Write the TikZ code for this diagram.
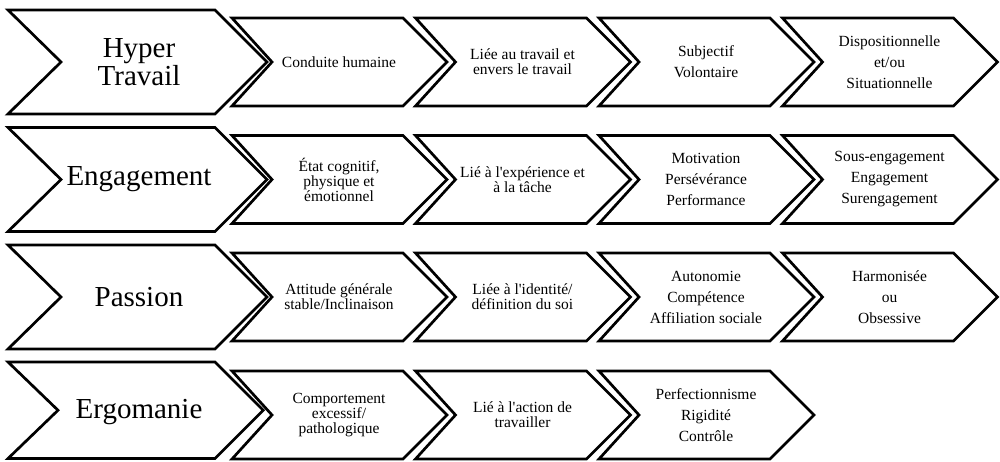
\documentclass[tikz,border=0pt]{standalone}
\usepackage{fontspec}
\newfontfamily\chevfont{Liberation Serif}
\newcommand\chev[6]{% left x, top y, top width, height, tip depth, notch depth
  \draw[chevline] ({#1},{#2}) -- ({#1+#3},{#2}) -- ({#1+#3+#5},{#2+#4/2})
    -- ({#1+#3},{#2+#4}) -- ({#1},{#2+#4}) -- ({#1+#6},{#2+#4/2}) -- cycle;}
\begin{document}
\begin{tikzpicture}[x=1pt,y=-1pt,
  chevline/.style={line width=2.7pt, line join=miter, draw=black},
  stxt/.style={font=\chevfont\fontsize{15.5}{15}\selectfont, align=center, inner sep=0pt},
  ltxt/.style={font=\chevfont\fontsize{15.5}{21}\selectfont, align=center, inner sep=0pt},
  btxt/.style={font=\chevfont\fontsize{29}{25.5}\selectfont, align=center, inner sep=0pt}]
\useasboundingbox (0,0) rectangle (1000,461);
% big chevrons
\chev{8}{10}{207}{104}{52}{53}
\chev{8}{127.5}{207}{104}{52}{53}
\chev{8}{245}{207}{104}{52}{53}
\chev{8}{362}{207}{96.5}{48.25}{50}
% small chevrons
\foreach \o in {0,117.5,235,353}{
  \foreach \l in {232,415.5,599}{
    \chev{\l}{18+\o}{171}{88}{44}{40}
  }
}
\foreach \o in {0,117.5,235}{
  \chev{782.5}{18+\o}{171}{88}{44}{40}
}
% row 1
\node[btxt] (h0) at (139,62) {Hyper\\Travail};
\node[stxt] (h1) at (339,62) {Conduite humaine};
\node[stxt] (h2) at (522.5,62) {Liée au travail et\\envers le travail};
\node[ltxt] (h3) at (706,62) {Subjectif\\Volontaire};
\node[ltxt] (h4) at (889.5,62) {Dispositionnelle\\et/ou\\Situationnelle};
% row 2
\node[btxt] (e0) at (139,179.5) {Engagement};
\node[stxt] (e1) at (339,179.5) {État cognitif,\\physique et\\émotionnel};
\node[stxt] (e2) at (522.5,179.5) {Lié à l'expérience et\\à la tâche};
\node[ltxt] (e3) at (706,179.5) {Motivation\\Persévérance\\Performance};
\node[ltxt] (e4) at (889.5,179.5) {Sous-engagement\\Engagement\\Surengagement};
% row 3
\node[btxt] (p0) at (139,297) {Passion};
\node[stxt] (p1) at (339,297) {Attitude générale\\stable/Inclinaison};
\node[stxt] (p2) at (522.5,297) {Liée à l'identité/\\définition du soi};
\node[ltxt] (p3) at (706,297) {Autonomie\\Compétence\\Affiliation sociale};
\node[ltxt] (p4) at (889.5,297) {Harmonisée\\ou\\Obsessive};
% row 4
\node[btxt] (g0) at (139,412) {Ergomanie};
\node[stxt] (g1) at (339,415) {Comportement\\excessif/\\pathologique};
\node[stxt] (g2) at (522.5,415) {Lié à l'action de\\travailler};
\node[ltxt] (g3) at (706,415) {Perfectionnisme\\Rigidité\\Contrôle};
\end{tikzpicture}
\end{document}
